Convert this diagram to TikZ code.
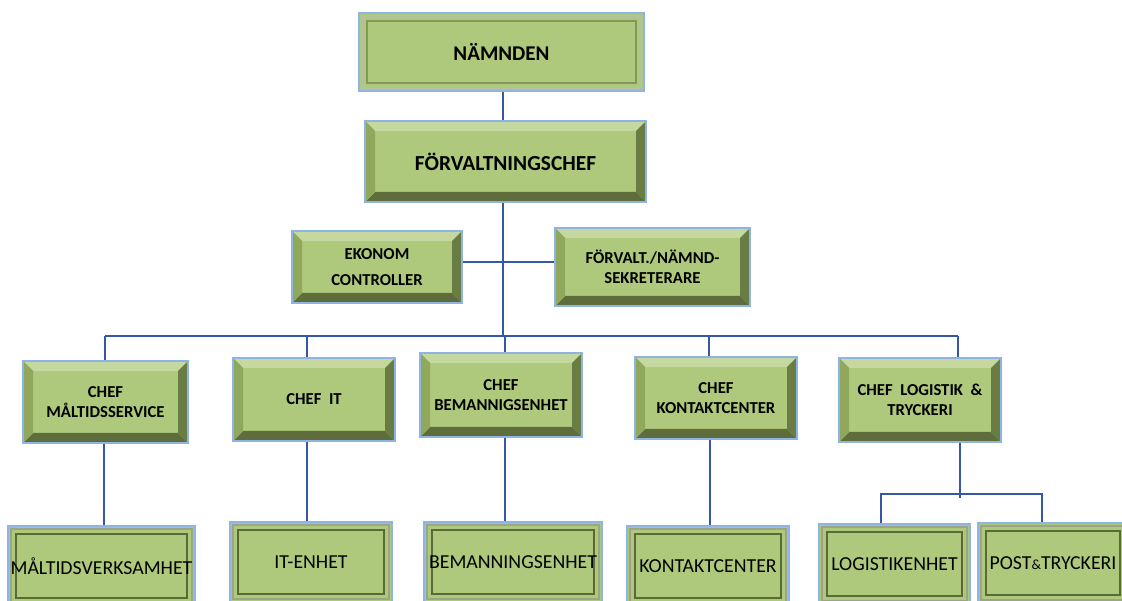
\documentclass[tikz,border=0pt]{standalone}
\usepackage{fontspec}
\setmainfont{Carlito}
\usetikzlibrary{calc}
\definecolor{cface}{HTML}{AFC97C}
\definecolor{ctop}{HTML}{C5D89F}
\definecolor{cleft}{HTML}{90A85C}
\definecolor{cright}{HTML}{687C44}
\definecolor{cbottom}{HTML}{5E6D3B}
\definecolor{cedge}{HTML}{8DB4E2}
\definecolor{cline}{HTML}{3458A4}
\definecolor{cshadow}{HTML}{5A6A36}
\tikzset{
  every picture/.style={x=1pt, y=-1pt},
  orgline/.style={draw=cline, line width=2.9pt},
  bevelbox/.style={draw=cedge, line width=1.2pt, fill=cface, align=center, inner sep=0pt,
    font=\fontsize{16.7}{20}\selectfont\bfseries,
    path picture={
      \path (path picture bounding box.north west) coordinate (pnw)
            (path picture bounding box.north east) coordinate (pne)
            (path picture bounding box.south west) coordinate (psw)
            (path picture bounding box.south east) coordinate (pse);
      \fill[ctop] (pnw) -- (pne) -- ([shift={(-10pt,-10pt)}]pne) -- ([shift={(10pt,-10pt)}]pnw) -- cycle;
      \fill[cbottom] (psw) -- (pse) -- ([shift={(-10pt,10pt)}]pse) -- ([shift={(10pt,10pt)}]psw) -- cycle;
      \fill[cleft] (pnw) -- ([shift={(10pt,-10pt)}]pnw) -- ([shift={(10pt,10pt)}]psw) -- (psw) -- cycle;
      \fill[cright] (pne) -- ([shift={(-10pt,-10pt)}]pne) -- ([shift={(-10pt,10pt)}]pse) -- (pse) -- cycle;
    }},
  flatbox/.style={draw=cedge, line width=1.2pt, fill=cface, align=center, inner sep=0pt,
    font=\fontsize{19.8}{22}\selectfont,
    path picture={
      \draw[#1!60, line width=1.5pt] ([shift={(3pt,-3pt)}]path picture bounding box.north west)
        rectangle ([shift={(-3pt,3pt)}]path picture bounding box.south east);
      \draw[#1, line width=1.2pt] ([shift={(8pt,-8pt)}]path picture bounding box.north west)
        rectangle ([shift={(-8pt,8pt)}]path picture bounding box.south east);
    }},
  flatbox/.default=cshadow,
}

\begin{document}
\begin{tikzpicture}
  \useasboundingbox (0,0) rectangle (1122,601);
  \clip (0,0) rectangle (1122,601);
  \node[flatbox=cface!75!black, minimum width=285pt, minimum height=78pt, font=\fontsize{21}{24}\selectfont\bfseries] (namnden) at (501.5,52) {NÄMNDEN};
  \node[bevelbox, minimum width=281pt, minimum height=81pt, font=\fontsize{21.4}{24}\selectfont\bfseries] (forv) at (505.5,161.5) {FÖRVALTNINGSCHEF};
  \node[bevelbox, minimum width=170pt, minimum height=72pt] (ekonom) at (377,267) {EKONOM\\[6pt]CONTROLLER};
  \node[bevelbox, minimum width=195pt, minimum height=78pt] (sekr) at (652.5,267) {FÖRVALT./NÄMND-\\SEKRETERARE};

  \node[bevelbox, minimum width=165pt, minimum height=82pt] (chefmalt) at (105.5,402) {CHEF\\MÅLTIDSSERVICE};
  \node[bevelbox, minimum width=162pt, minimum height=83pt] (chefit) at (314,399.5) {CHEF\ \ IT};
  \node[bevelbox, minimum width=162pt, minimum height=84pt] (chefbem) at (501,395) {CHEF\\BEMANNIGSENHET};
  \node[bevelbox, minimum width=162pt, minimum height=82pt] (chefkont) at (716,398) {CHEF\\KONTAKTCENTER};
  \node[bevelbox, minimum width=162pt, minimum height=84pt] (cheflog) at (920,400) {CHEF\ \ LOGISTIK\ \ \&\\TRYCKERI};

  \node[flatbox, minimum width=187pt, minimum height=80pt] (unitmalt) at (101.5,566) {MÅLTIDSVERKSAMHET};
  \node[flatbox, minimum width=162pt, minimum height=80pt] (unitit) at (311,562) {IT-ENHET};
  \node[flatbox, minimum width=178pt, minimum height=80pt] (unitbem) at (513,562) {BEMANNINGSENHET};
  \node[flatbox, minimum width=162pt, minimum height=80pt] (unitkont) at (708,566) {KONTAKTCENTER};
  \node[flatbox, minimum width=151pt, minimum height=80pt] (unitlog) at (894.5,564) {LOGISTIKENHET};
  \node[flatbox, minimum width=150pt, minimum height=80pt] (unitpost) at (1053,563) {POST{\fontsize{14}{16}\selectfont\&}TRYCKERI};

  \coordinate (trunk) at (503,336);
  \coordinate (staff) at (503,262);
  \coordinate (split) at (960,494);
  \draw[orgline] (namnden.south -| trunk) -- (forv.north -| trunk);
  \draw[orgline] (forv.south -| trunk) -- (trunk);
  \draw[orgline] (ekonom.east |- staff) -- (sekr.west |- staff);
  \draw[orgline] (105,336) -- (958,336);
  \foreach \n/\x in {malt/105, it/307, bem/505, kont/709, log/958}
    \draw[orgline] (\x,336) -- (\x,336 |- chef\n.north);
  \foreach \n/\x in {malt/104, it/307, bem/505, kont/710}
    \draw[orgline] (\x,0 |- chef\n.south) -- (\x,0 |- unit\n.north);
  \draw[orgline] (cheflog.south -| split) -- ([yshift=-4pt]split);
  \draw[orgline] (881,0 |- unitlog.north) |- (split) -| (1042,0 |- unitpost.north);
\end{tikzpicture}
\end{document}
